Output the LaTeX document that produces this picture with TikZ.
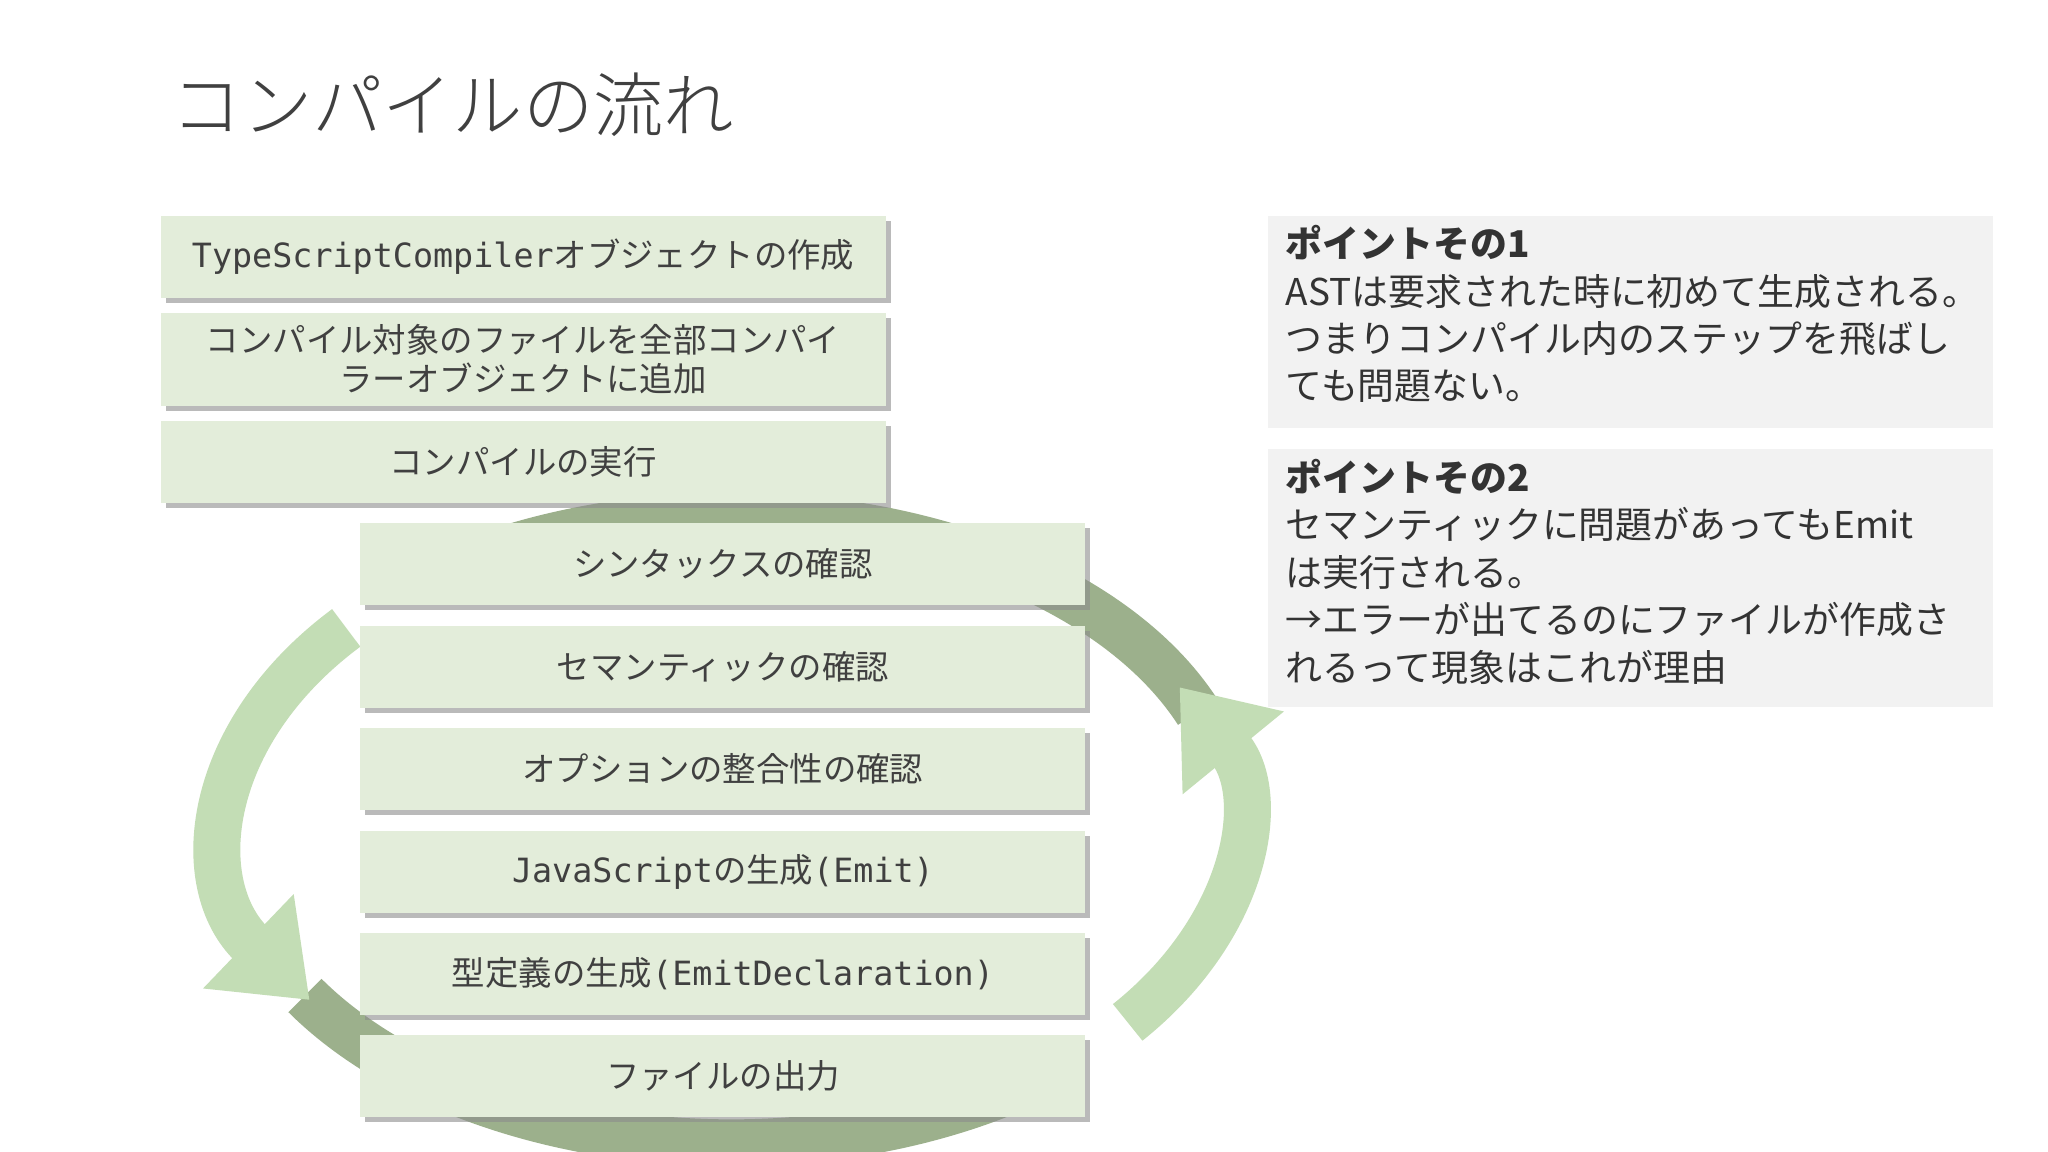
\documentclass[tikz,border=0pt]{standalone}
\usepackage{fontspec}
\setmainfont{Noto Sans CJK JP}
\newfontfamily\jp{Noto Sans CJK JP}
\newfontfamily\jpl{Noto Sans CJK JP Light}
\setmonofont{DejaVu Sans Mono}
\usetikzlibrary{arrows.meta,shadows}
\definecolor{boxg}{HTML}{E3EDDA}
\definecolor{darkg}{HTML}{9CB08C}
\definecolor{lightg}{HTML}{C3DDB5}
\definecolor{greyb}{HTML}{F2F2F2}
\begin{document}
\begin{tikzpicture}[x=0.01306cm,y=-0.01306cm,
  stepbox/.style={draw=none,fill=boxg,minimum height=0.82cm,align=center,font=\jp\fontsize{9.5}{11}\selectfont,text=black!75,
    drop shadow={shadow xshift=0.05cm,shadow yshift=-0.05cm,fill=black!45,opacity=0.6}},
  upper/.style={stepbox,minimum width=7.25cm},
  lower/.style={stepbox,minimum width=7.25cm},
  note/.style={align=left,anchor=north west,font=\jp\fontsize{10.5}{13.5}\selectfont,inner sep=0pt,text=black!80},
  ring/.style={line width=0.47cm}]
\useasboundingbox (0,0) rectangle (1568,882);
\fill[white] (0,0) rectangle (1568,882);
\node[anchor=west,font=\jpl\fontsize{20}{24}\selectfont,text=black!75] (title) at (122,80) {コンパイルの流れ};
% arcs
\draw[ring,darkg] (560,635) ++(-119:385 and 240) arc (-119:-22:385 and 240);
\draw[ring,darkg] (560,635) ++(148:385 and 240) arc (148:50:385 and 240);
\draw[ring,lightg,-{Triangle[width=1.25cm,length=0.85cm]}] (560,635) ++(38:385 and 240) arc (38:-27:385 and 240);
\draw[ring,lightg,-{Triangle[width=1.25cm,length=0.85cm]}] (560,635) ++(-140:385 and 240) arc (-140:-213:385 and 240);
% boxes
\node[upper] (b1) at (400.5,196.5) {{\ttfamily TypeScriptCompiler}オブジェクトの作成};
\node[upper] (b2) at (400.5,275) {コンパイル対象のファイルを全部コンパイ\\ラーオブジェクトに追加};
\node[upper] (b3) at (400.5,353.5) {コンパイルの実行};
\node[lower] (c1) at (553.5,431.5) {シンタックスの確認};
\node[lower] (c2) at (553.5,510.5) {セマンティックの確認};
\node[lower] (c3) at (553.5,588.5) {オプションの整合性の確認};
\node[lower] (c4) at (553.5,667.5) {{\ttfamily JavaScript}の生成{\ttfamily(Emit)}};
\node[lower] (c5) at (553.5,745.5) {型定義の生成{\ttfamily(EmitDeclaration)}};
\node[lower] (c6) at (553.5,823.5) {ファイルの出力};
% notes
\fill[greyb] (971,165) rectangle (1526,328);
\fill[greyb] (971,344) rectangle (1526,541);
\node[note] (n1) at (984,172) {\textbf{ポイントその1}\\ASTは要求された時に初めて生成される。\\つまりコンパイル内のステップを飛ばし\\ても問題ない。};
\node[note] (n2) at (984,351) {\textbf{ポイントその2}\\セマンティックに問題があってもEmit\\は実行される。\\→エラーが出てるのにファイルが作成さ\\れるって現象はこれが理由};
\end{tikzpicture}
\end{document}
